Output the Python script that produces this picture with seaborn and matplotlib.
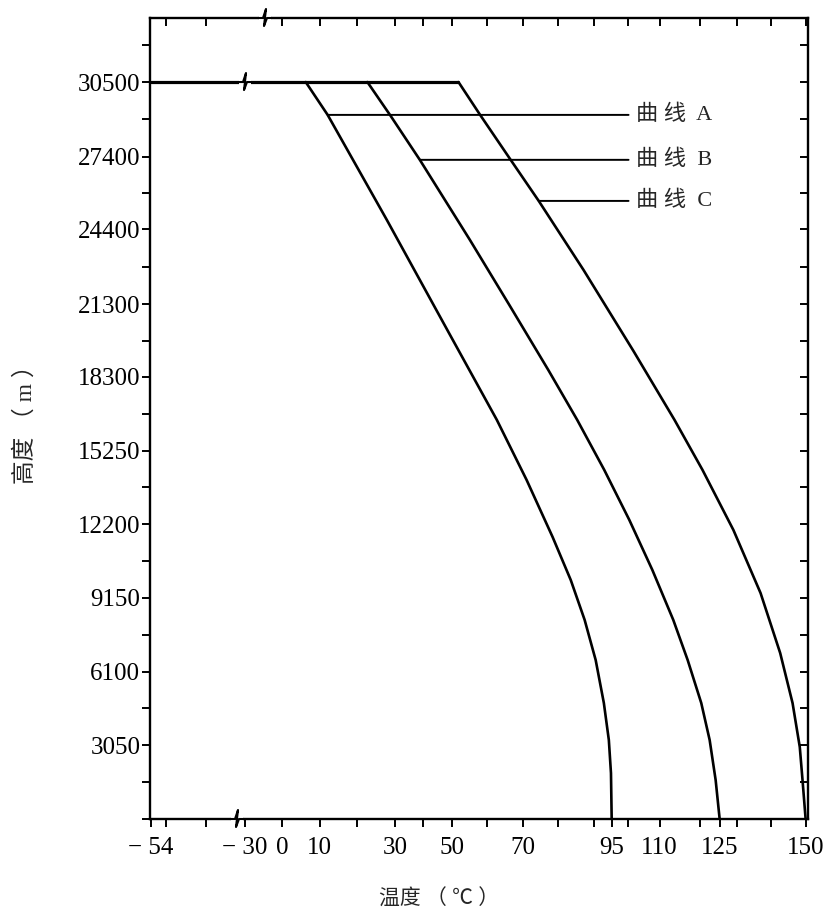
import numpy as np
import pandas as pd
import matplotlib
matplotlib.use("Agg")
import matplotlib.pyplot as plt
import seaborn as sns

# 曲线数据 (高度 m, 温度 ℃)
alt_a = [30500, 29140, 24790, 20120, 16520, 14030, 11670, 9890, 8240, 6580, 4800, 3270, 1900, 0]
temp_a = [6.3, 12.1, 27.9, 49.0, 62.7, 71.1, 78.4, 83.5, 87.4, 90.5, 92.8, 94.2, 94.8, 95]
alt_b = [30500, 29100, 27280, 23970, 21280, 18580, 16520, 14450, 12380, 10310, 8240, 6580, 4800, 3270, 1610, 0]
temp_b = [22.7, 28.9, 38.8, 55.1, 66.2, 77.2, 85.3, 92.9, 100.5, 107.7, 113.4, 117.0, 120.4, 122.5, 124.0, 125]
alt_c = [30500, 29140, 27280, 25580, 22720, 19370, 16520, 14450, 11960, 9350, 6870, 4800, 2980, 1610, 0]
temp_c = [51.9, 58.0, 66.6, 74.5, 87.1, 101.8, 113.7, 120.7, 129.0, 136.9, 142.6, 146.2, 148.3, 149.1, 150]
curve_names = ["曲 线  A", "曲 线  B", "曲 线  C"]
label_alt = [29140, 27280, 25580]

plateau_alt = 30500
x_ticks = [-54, -30, 0, 10, 30, 50, 70, 95, 110, 125, 150]
x_ticklabels = ["− 54", "− 30", "0", "10", "30", "50", "70", "95", "110", "125", "150"]
x_minor = [-50, -40, 20, 40, 60, 80, 90, 100, 120, 130, 140]
y_ticks = [0, 3050, 6100, 9150, 12200, 15250, 18300, 21300, 24400, 27400, 30500]
y_ticklabels = [""] + [str(v) for v in y_ticks[1:]]

# 横轴是手绘的非均匀刻度 (中间有断开)，用分段线性映射
scale_vals = [-60, -54, -30, 0, 10, 30, 50, 70, 95, 110, 125, 150, 160]
scale_px = [126, 151, 245, 282, 320, 395, 452, 523, 612, 660, 720, 806, 840]

def fwd(x):
    return np.interp(x, scale_vals, scale_px)

def inv(p):
    return np.interp(p, scale_px, scale_vals)

sns.set_style("ticks")
plt.rcParams["font.family"] = ["Liberation Serif", "Noto Sans CJK SC", "DejaVu Sans"]

df = pd.concat([
    pd.DataFrame({"temp": t, "alt": a, "curve": n})
    for t, a, n in zip([temp_a, temp_b, temp_c], [alt_a, alt_b, alt_c], curve_names)
])

fig = plt.figure(figsize=(8.29, 9.24), dpi=100)
ax = fig.add_axes([150 / 829, 1 - 819 / 924, 658 / 829, 801 / 924])

sns.lineplot(data=df, x="temp", y="alt", hue="curve", palette=["black"] * 3,
             estimator=None, sort=False, legend=False, lw=1.9, ax=ax)
ax.plot([-54, temp_c[0]], [plateau_alt, plateau_alt], color="black", lw=2.3)

ax.set_xscale("function", functions=(fwd, inv))
xlim = (-54.2, 150.7)
ylim = (0, 33150)
ax.set_xlim(xlim)
ax.set_ylim(ylim)

ax.set_xticks(x_ticks)
ax.set_xticklabels(x_ticklabels)
ax.set_xticks(x_minor, minor=True)
ax.set_yticks(y_ticks)
ax.set_yticklabels(y_ticklabels)
y_minor = [(a + b) / 2 for a, b in zip(y_ticks[:-1], y_ticks[1:])] + [32050]
ax.set_yticks(y_minor, minor=True)
ax.tick_params(axis="both", which="both", direction="out", length=6, width=1.4,
               color="black", labelsize=18, labelcolor="black")
ax.tick_params(axis="x", which="both", pad=7)
ax.tick_params(axis="y", which="both", pad=1)
for s in ax.spines.values():
    s.set_linewidth(1.7)
    s.set_color("black")

# 上边和右边的内向刻度
ax_top = ax.twiny()
ax_top.set_xscale("function", functions=(fwd, inv))
ax_top.set_xlim(xlim)
ax_top.set_xticks(x_minor[:2] + list(range(0, 151, 10)))
ax_top.tick_params(axis="x", direction="in", length=6, width=1.4, labeltop=False, color="black")
ax_right = ax.twinx()
ax_right.set_ylim(ylim)
ax_right.set_yticks(y_ticks[1:] + y_minor)
ax_right.tick_params(axis="y", direction="in", length=6, width=1.4, labelright=False, color="black")
for a in (ax_top, ax_right):
    for s in a.spines.values():
        s.set_visible(False)

# 曲线标注
for name, y0, t, a in zip(curve_names, label_alt, [temp_a, temp_b, temp_c], [alt_a, alt_b, alt_c]):
    x0 = np.interp(y0, a[::-1], t[::-1])
    ax.annotate(name, xy=(x0, y0), xytext=(102.6, y0), textcoords="data",
                ha="left", va="center", fontsize=16,
                arrowprops=dict(arrowstyle="-", lw=1.4, color="black", shrinkA=3, shrinkB=0))

# 断轴符号
dx, dy = 1 / 658, 1 / 801
def axis_break(xf, yf):
    ax.plot([xf - 6 * dx, xf + 6 * dx], [yf, yf], color="white", lw=4.5,
            transform=ax.transAxes, clip_on=False, zorder=5, solid_capstyle="butt")
    px = np.array([-7, -2, 1, -1, 2, 7])
    py = np.array([0, 0, 9, -8, 0, 0])
    ax.plot(xf + px * dx, yf + py * dy, color="black", lw=1.5,
            transform=ax.transAxes, clip_on=False, zorder=6)

axis_break((237 - 150) / 658, 0)
axis_break((265 - 150) / 658, 1)
axis_break((245 - 150) / 658, plateau_alt / ylim[1])

ax.set_xlabel("温度 （ ℃ ）", fontsize=15)
ax.xaxis.set_label_coords(0.44, -0.088)
ax.set_ylabel("高度 （ m ）", fontsize=17, va="center")
ax.yaxis.set_label_coords(-0.19, 0.5)

fig.savefig("out.png", dpi=100)
